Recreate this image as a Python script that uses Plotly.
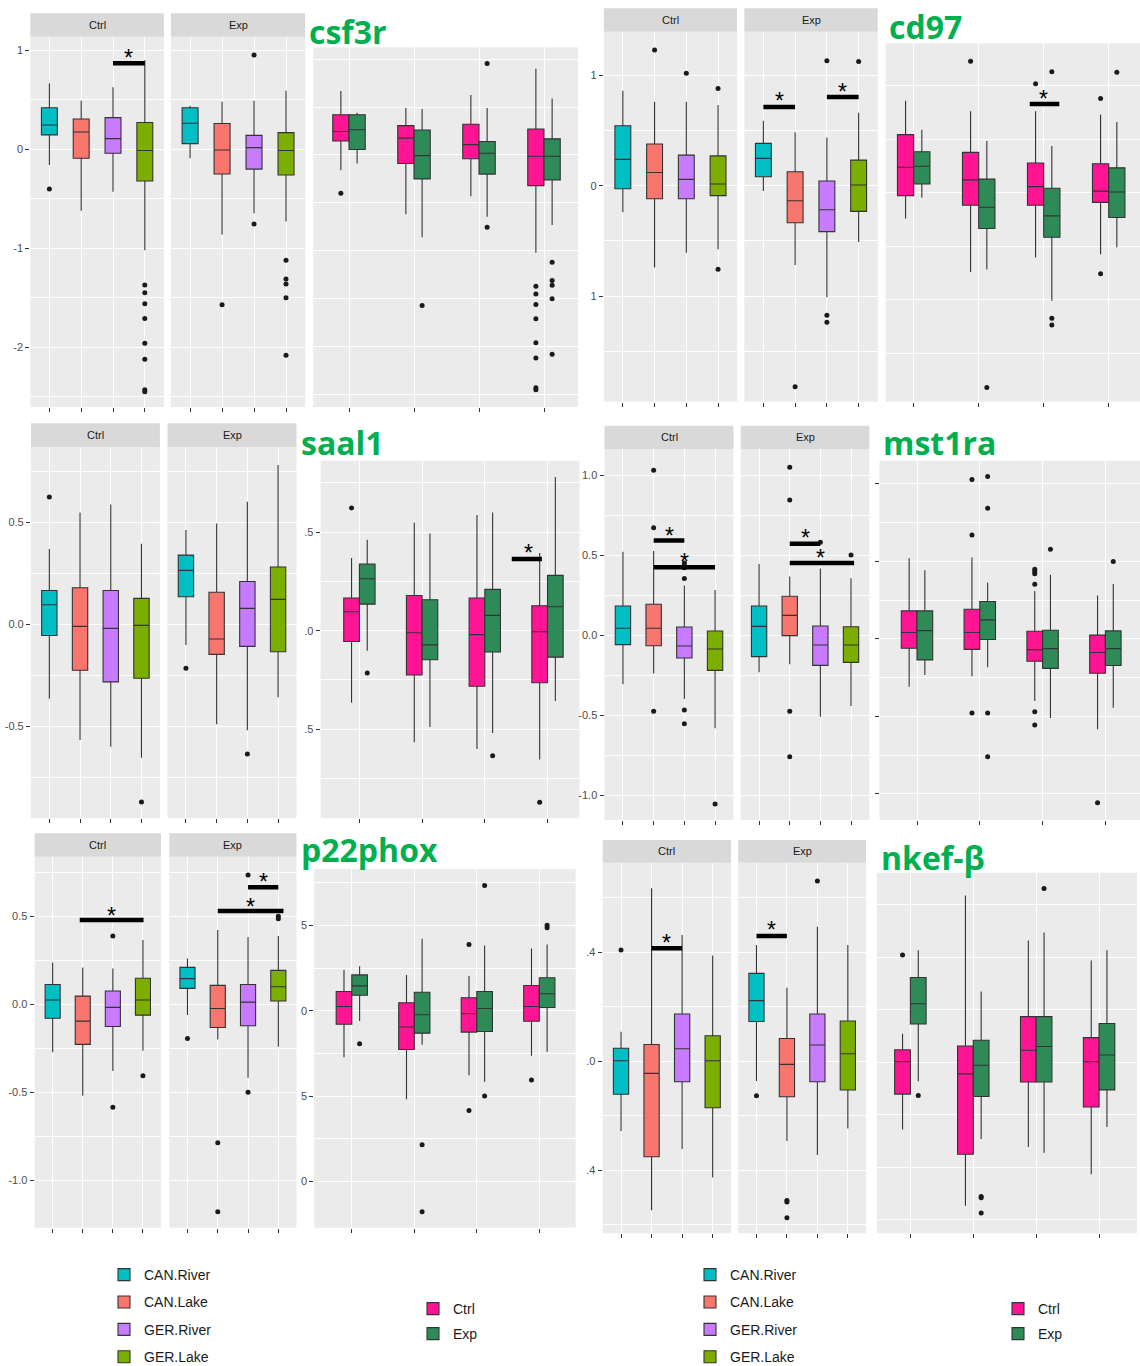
import plotly.graph_objects as go

W, H = 1140, 1366

POPS = ["CAN.River", "CAN.Lake", "GER.River", "GER.Lake"]
CONDS = ["Ctrl", "Exp"]
POP_COLORS = ["#00BFC4", "#F8766D", "#C77CFF", "#7CAE00"]
COND_COLORS = ["#FF1493", "#2E8B57"]
GENES = ["csf3r", "cd97", "saal1", "mst1ra", "p22phox", "nkef-β"]

# ---------------- data (order of every list = POPS) ----------------
# low/high = whisker ends, q1/med/q3 = box, out = outlying points
CSF3R_CTRL = dict(low=[-0.16, -0.62, -0.43, -1.02], q1=[0.145, -0.09, -0.04, -0.32],
                  med=[0.245, 0.175, 0.108, -0.013], q3=[0.42, 0.306, 0.32, 0.27],
                  high=[0.667, 0.49, 0.626, 0.90],
                  out=[[-0.40], [], [], [-1.37, -1.45, -1.56, -1.71, -1.96, -2.12, -2.43, -2.45]])
CSF3R_EXP = dict(low=[-0.09, -0.86, -0.646, -0.73], q1=[0.057, -0.25, -0.20, -0.26],
                 med=[0.263, -0.007, 0.017, -0.013], q3=[0.42, 0.26, 0.14, 0.168],
                 high=[0.44, 0.48, 0.49, 0.59],
                 out=[[], [-1.57], [0.953, -0.754], [-1.12, -1.31, -1.36, -1.50, -2.08]])

CD97_CTRL = dict(low=[-0.24, -0.74, -0.606, -0.576], q1=[-0.027, -0.118, -0.118, -0.09],
                 med=[0.238, 0.12, 0.057, 0.015], q3=[0.543, 0.377, 0.277, 0.27],
                 high=[0.86, 0.76, 0.76, 0.73],
                 out=[[], [1.228], [1.017], [0.88, -0.757]])
CD97_EXP = dict(low=[-0.048, -0.718, -1.01, -0.51], q1=[0.081, -0.335, -0.416, -0.232],
                med=[0.247, -0.136, -0.217, 0.006], q3=[0.383, 0.127, 0.042, 0.232],
                high=[0.588, 0.483, 0.437, 0.66],
                out=[[], [-1.82], [1.13, -1.173, -1.237], [1.125]])

SAAL1_CTRL = dict(low=[-0.365, -0.566, -0.60, -0.653], q1=[-0.055, -0.225, -0.282, -0.264],
                  med=[0.096, -0.010, -0.020, -0.005], q3=[0.166, 0.179, 0.166, 0.127],
                  high=[0.369, 0.548, 0.587, 0.395],
                  out=[[0.623], [], [], [-0.87]])
SAAL1_EXP = dict(low=[-0.101, -0.489, -0.519, -0.357], q1=[0.135, -0.147, -0.108, -0.134],
                 med=[0.264, -0.072, 0.078, 0.122], q3=[0.339, 0.157, 0.21, 0.281],
                 high=[0.462, 0.494, 0.60, 0.78],
                 out=[[-0.215], [], [-0.635], []])

MST1RA_CTRL = dict(low=[-0.308, -0.24, -0.40, -0.583], q1=[-0.06, -0.067, -0.144, -0.221],
                   med=[0.042, 0.042, -0.069, -0.0875], q3=[0.181, 0.192, 0.05, 0.025],
                   high=[0.521, 0.525, 0.31, 0.281],
                   out=[[], [1.029, 0.671, -0.477], [0.45, 0.435, 0.42, 0.353, -0.469, -0.555], [-1.056]])
MST1RA_EXP = dict(low=[-0.233, -0.183, -0.51, -0.444], q1=[-0.135, -0.004, -0.19, -0.171],
                  med=[0.054, 0.123, -0.0625, -0.0625], q3=[0.181, 0.242, 0.056, 0.052],
                  high=[0.444, 0.365, 0.415, 0.354],
                  out=[[], [1.048, 0.844, -0.477, -0.76], [0.579], [0.50]])

P22PHOX_CTRL = dict(low=[-0.272, -0.518, -0.378, -0.263], q1=[-0.079, -0.227, -0.125, -0.061],
                    med=[0.025, -0.095, -0.017, 0.025], q3=[0.113, 0.047, 0.076, 0.148],
                    high=[0.238, 0.21, 0.204, 0.365],
                    out=[[], [], [0.388, -0.584], [-0.405]])
P22PHOX_EXP = dict(low=[-0.06, -0.199, -0.416, -0.24], q1=[0.091, -0.131, -0.121, 0.019],
                   med=[0.146, -0.023, 0.013, 0.10], q3=[0.21, 0.108, 0.113, 0.193],
                   high=[0.261, 0.422, 0.382, 0.388],
                   out=[[-0.193], [-0.785, -1.176], [0.734, -0.499], [0.50, 0.486]])

NKEFB_CTRL = dict(low=[-0.256, -0.546, -0.322, -0.426], q1=[-0.121, -0.35, -0.075, -0.17],
                  med=[0.002, -0.044, 0.046, 0.002], q3=[0.048, 0.062, 0.174, 0.094],
                  high=[0.109, 0.635, 0.464, 0.388],
                  out=[[0.409], [], [], []])
NKEFB_EXP = dict(low=[-0.072, -0.292, -0.344, -0.246], q1=[0.146, -0.13, -0.075, -0.105],
                 med=[0.223, -0.011, 0.06, 0.028], q3=[0.323, 0.084, 0.174, 0.148],
                 high=[0.427, 0.27, 0.494, 0.427],
                 out=[[-0.126], [-0.511, -0.516, -0.574], [0.662], []])

DATA = {"csf3r": (CSF3R_CTRL, CSF3R_EXP), "cd97": (CD97_CTRL, CD97_EXP),
        "saal1": (SAAL1_CTRL, SAAL1_EXP), "mst1ra": (MST1RA_CTRL, MST1RA_EXP),
        "p22phox": (P22PHOX_CTRL, P22PHOX_EXP), "nkef-β": (NKEFB_CTRL, NKEFB_EXP)}

# significance marks: (gene, panel, from, to, star position (category index), bar level, star level)
SIG = [
    ("csf3r", "Ctrl", 2, 3, 2.5, 0.87, 0.97),
    ("cd97", "Exp", 0, 1, 0.5, 0.712, 0.81),
    ("cd97", "Exp", 2, 3, 2.5, 0.803, 0.896),
    ("cd97", "both", 1.785, 2.24, 2.0, 0.829, 0.922),
    ("saal1", "both", 2.43, 2.91, 2.69, 0.364, 0.418),
    ("mst1ra", "Ctrl", 1, 2, 1.5, 0.59, 0.652),
    ("mst1ra", "Ctrl", 1, 3, 2.0, 0.423, 0.49),
    ("mst1ra", "Exp", 1, 2, 1.5, 0.571, 0.635),
    ("mst1ra", "Exp", 1, 3.1, 2.02, 0.45, 0.51),
    ("p22phox", "Ctrl", 0.9, 3.02, 1.95, 0.479, 0.531),
    ("p22phox", "Exp", 2, 3, 2.5, 0.664, 0.723),
    ("p22phox", "Exp", 1, 3.17, 2.07, 0.53, 0.583),
    ("nkef-β", "Ctrl", 1, 2, 1.5, 0.415, 0.451),
    ("nkef-β", "Exp", 0, 1, 0.5, 0.46, 0.50),
]

# ---------------- layout geometry (pixels) ----------------
GEOM = {
    "csf3r": dict(ctrl=(30.3, 163.9), exp=(170.9, 305.2), strip_top=13.3, top=36.7, bottom=407,
                  third=(313.3, 578), third_top=47.3, t0=349, step=65,
                  yr=(-2.603, 1.137), yr3=(-2.63, 1.123),
                  ticks=[1, 0, -1, -2], labels=["1", "0", "-1", "-2"], minor=[0.5, -0.5, -1.5, -2.5],
                  labels3=None, title=(307, 31.3)),
    "cd97": dict(ctrl=(603.8, 737.1), exp=(744.3, 877.7), strip_top=8.3, top=31.7, bottom=401.7,
                 third=(885.6, 1140), third_top=43.3, t0=913.7, step=65,
                 yr=(-1.955, 1.394), yr3=(-1.953, 1.396),
                 ticks=[1, 0, -1], labels=["1", "0", "1"], minor=[0.5, -0.5, -1.5],
                 labels3=None, title=(887, 26.3)),
    "saal1": dict(ctrl=(30.9, 159.9), exp=(167.5, 296.5), strip_top=423.3, top=447.3, bottom=818.3,
                  third=(320.6, 579.5), third_top=460.7, t0=359.4, step=62.7,
                  yr=(-0.950, 0.867), yr3=(-0.952, 0.863),
                  ticks=[0.5, 0, -0.5], labels=["0.5", "0.0", "-0.5"], minor=[0.75, 0.25, -0.25, -0.75],
                  labels3=[".5", ".0", ".5"], title=(299, 442)),
    "mst1ra": dict(ctrl=(604.5, 733.5), exp=(740.7, 869.4), strip_top=425.7, top=449, bottom=820,
                   third=(879.5, 1140), third_top=460.7, t0=917, step=62.8,
                   yr=(-1.156, 1.1625), yr3=(-1.168, 1.15),
                   ticks=[1, 0.5, 0, -0.5, -1], labels=["1.0", "0.5", "0.0", "-0.5", "-1.0"],
                   minor=[0.75, 0.25, -0.25, -0.75], labels3=["", "", "", "", ""], title=(881, 442)),
    "p22phox": dict(ctrl=(34.6, 161), exp=(169.3, 296.5), strip_top=833.3, top=856.7, bottom=1227.7,
                    third=(314.2, 575.7), third_top=869, t0=351.8, step=62.5,
                    yr=(-1.267, 0.838), yr3=(-1.27, 0.83),
                    ticks=[0.5, 0, -0.5, -1], labels=["0.5", "0.0", "-0.5", "-1.0"],
                    minor=[0.75, 0.25, -0.25, -0.75], labels3=["5", "0", "5", "0"], title=(299, 849.7)),
    "nkef-β": dict(ctrl=(602.7, 731), exp=(738.2, 866.1), strip_top=840, top=862.7, bottom=1233.3,
                   third=(877, 1137), third_top=872.7, t0=910.4, step=62.9,
                   yr=(-0.631, 0.729), yr3=(-0.651, 0.722),
                   ticks=[0.4, 0, -0.4], labels=[".4", ".0", ".4"], minor=[0.6, 0.2, -0.2, -0.6],
                   labels3=None, title=(878.5, 857)),
}

# legend placement: (left px, top px, gap between entries)
LEGENDS = {"legend": (104, 1259, 6.2), "legend2": (413, 1293, 3.8),
           "legend3": (690, 1259, 6.2), "legend4": (998, 1293, 3.8)}

GRID = "white"
PANEL_BG = "#EBEBEB"
STRIP_BG = "#D9D9D9"
TICK_COL = "#333333"
TXT_COL = "#4D4D4D"
FONT = "Liberation Sans, Arial, sans-serif"


def fx(v):
    return v / W


def fy(v):
    return 1 - v / H


fig = go.Figure()
layout = {}
shapes = []
annotations = []

for b, gene in enumerate(GENES):
    g = GEOM[gene]
    stats = DATA[gene]
    panel_ids = {}
    for p in range(3):
        n = b * 3 + p + 1
        xa = "x" if n == 1 else f"x{n}"
        ya = "y" if n == 1 else f"y{n}"
        panel_ids[["Ctrl", "Exp", "both"][p]] = (xa, ya)
        if p < 2:
            x0, x1 = g["ctrl"] if p == 0 else g["exp"]
            top, bottom = g["top"], g["bottom"]
            xr = [-0.6, 3.6]
            yr = list(g["yr"])
        else:
            x0, x1 = g["third"]
            top, bottom = g["third_top"], g["bottom"]
            xr = [(x0 - g["t0"]) / g["step"], (x1 - g["t0"]) / g["step"]]
            yr = list(g["yr3"])

        layout["xaxis" if n == 1 else f"xaxis{n}"] = dict(
            domain=[fx(x0), fx(x1)], anchor=ya, type="category", categoryorder="array",
            categoryarray=POPS, range=xr, showticklabels=False, ticks="outside", ticklen=4,
            tickwidth=1, tickcolor=TICK_COL, showgrid=True, gridcolor=GRID, gridwidth=1.2,
            zeroline=False, showline=False, fixedrange=True)

        yax = dict(domain=[fy(bottom), fy(top)], anchor=xa, range=yr, tickmode="array",
                   tickvals=g["ticks"], showgrid=True, gridcolor=GRID, gridwidth=1.2,
                   minor=dict(tickmode="array", tickvals=g["minor"], showgrid=True,
                              gridcolor=GRID, gridwidth=0.6, ticks=""),
                   zeroline=False, showline=False, fixedrange=True,
                   tickfont=dict(family=FONT, size=11, color=TXT_COL))
        if p == 0:
            yax.update(ticktext=g["labels"], showticklabels=True, ticks="outside", ticklen=4,
                       tickwidth=1, tickcolor=TICK_COL)
        elif p == 2 and g["labels3"] is not None:
            yax.update(ticktext=g["labels3"], showticklabels=True, ticks="outside", ticklen=4,
                       tickwidth=1, tickcolor=TICK_COL)
        else:
            yax.update(showticklabels=False, ticks="")
        layout["yaxis" if n == 1 else f"yaxis{n}"] = yax

        if p < 2:
            d = stats[p]
            # strip
            shapes.append(dict(type="rect", xref="paper", yref="paper", x0=fx(x0), x1=fx(x1),
                               y0=fy(g["top"]), y1=fy(g["strip_top"]), fillcolor=STRIP_BG,
                               line=dict(width=0), layer="above"))
            annotations.append(dict(xref="paper", yref="paper", x=fx((x0 + x1) / 2),
                                    y=fy((g["top"] + g["strip_top"]) / 2), text=CONDS[p],
                                    showarrow=False, xanchor="center", yanchor="middle",
                                    font=dict(family=FONT, size=11, color="#1A1A1A")))
            for i, pop in enumerate(POPS):
                legend_id = None
                if p == 0 and b == 0:
                    legend_id = "legend"
                elif p == 0 and b == 1:
                    legend_id = "legend3"
                fig.add_trace(go.Box(
                    x=[pop], q1=[d["q1"][i]], median=[d["med"][i]], q3=[d["q3"][i]],
                    lowerfence=[d["low"][i]], upperfence=[d["high"][i]],
                    name=pop, fillcolor=POP_COLORS[i], line=dict(color=TICK_COL, width=1.1),
                    whiskerwidth=0, offsetgroup="f", xaxis=xa, yaxis=ya,
                    showlegend=legend_id is not None,
                    legend=legend_id if legend_id else "legend",
                    legendgroup=f"{legend_id}_{pop}" if legend_id else None,
                    hoverinfo="skip"))
            ox = [pop for i, pop in enumerate(POPS) for _ in d["out"][i]]
            oy = [v for i in range(4) for v in d["out"][i]]
            fig.add_trace(go.Scatter(x=ox, y=oy, mode="markers", orientation="v",
                                     marker=dict(color="#1A1A1A", size=5), offsetgroup="f",
                                     xaxis=xa, yaxis=ya, showlegend=False, hoverinfo="skip"))
        else:
            for c, cond in enumerate(CONDS):
                d = stats[c]
                legend_id = None
                if b == 0:
                    legend_id = "legend2"
                elif b == 1:
                    legend_id = "legend4"
                fig.add_trace(go.Box(
                    x=POPS, q1=d["q1"], median=d["med"], q3=d["q3"],
                    lowerfence=d["low"], upperfence=d["high"],
                    name=cond, fillcolor=COND_COLORS[c], line=dict(color=TICK_COL, width=1.1),
                    whiskerwidth=0, offsetgroup=cond, xaxis=xa, yaxis=ya,
                    showlegend=legend_id is not None,
                    legend=legend_id if legend_id else "legend",
                    legendgroup=f"{legend_id}_{cond}" if legend_id else None,
                    hoverinfo="skip"))
            for c, cond in enumerate(CONDS):
                d = stats[c]
                ox = [pop for i, pop in enumerate(POPS) for _ in d["out"][i]]
                oy = [v for i in range(4) for v in d["out"][i]]
                fig.add_trace(go.Scatter(x=ox, y=oy, mode="markers", orientation="v",
                                         marker=dict(color="#1A1A1A", size=5), offsetgroup=cond,
                                         xaxis=xa, yaxis=ya, showlegend=False, hoverinfo="skip"))

    # gene title
    tx, ty = g["title"]
    annotations.append(dict(xref="paper", yref="paper", x=fx(tx), y=fy(ty), text=gene,
                            showarrow=False, xanchor="left", yanchor="middle",
                            font=dict(family="Open Sans", size=32, color="#00B050", weight="bold")))

    # significance marks
    for (sg, panel, s0, s1, sx, ybar, ystar) in SIG:
        if sg != gene:
            continue
        xa, ya = panel_ids[panel]
        shapes.append(dict(type="line", xref=xa, yref=ya, x0=s0, x1=s1, y0=ybar, y1=ybar,
                           line=dict(color="black", width=4.5), layer="above"))
        annotations.append(dict(xref=xa, yref=ya, x=sx, y=ystar, text="*", showarrow=False,
                                xanchor="center", yanchor="middle", yshift=-5,
                                font=dict(family=FONT, size=23, color="black")))

for lid, (lx, ly, gap) in LEGENDS.items():
    layout[lid] = dict(x=fx(lx), y=fy(ly), xanchor="left", yanchor="top",
                       bgcolor="rgba(0,0,0,0)", tracegroupgap=gap,
                       font=dict(family=FONT, size=14, color="#1A1A1A"))

fig.update_layout(
    width=W, height=H, autosize=False,
    margin=dict(l=0, r=0, t=0, b=0, autoexpand=False),
    paper_bgcolor="white", plot_bgcolor=PANEL_BG,
    boxmode="group", boxgap=0.5, boxgroupgap=0,
    scattermode="group", scattergap=0.5,
    shapes=shapes, annotations=annotations, hovermode=False,
    **layout)

fig.write_html("out.html", config={"displayModeBar": False},
               post_script="document.body.style.margin='0';document.body.style.overflow='hidden';")
